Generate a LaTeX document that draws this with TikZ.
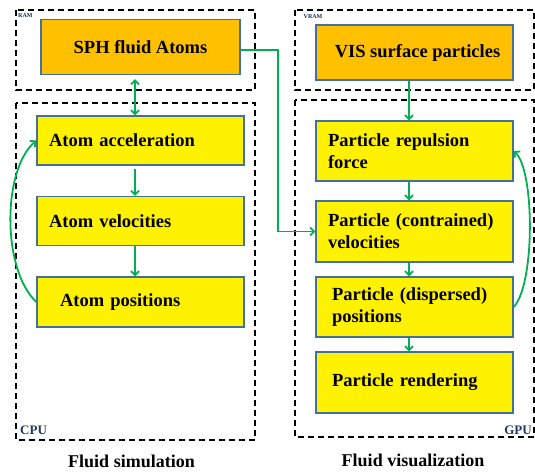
\documentclass[tikz,border=0pt]{standalone}
\usepackage{fontspec}
\setmainfont{Liberation Serif}
\usepackage{tikz}
\usetikzlibrary{arrows.meta}
\definecolor{StoreGold}{HTML}{FFC000}
\definecolor{BoxLine}{HTML}{41719C}
\definecolor{FlowGreen}{HTML}{00B050}
\definecolor{LabelNavy}{HTML}{1F3864}

\tikzset{
    frame/.style={draw=black, line width=1.8pt, dash pattern=on 6pt off 4pt},
    store/.style={draw=BoxLine, fill=StoreGold, line width=1.3pt, minimum height=55pt, font=\bfseries\fontsize{18.5}{22}\selectfont},
    stage/.style={draw=BoxLine, fill=yellow, line width=1.3pt, align=left, inner xsep=12pt, font=\bfseries\fontsize{18.5}{22}\selectfont},
    flow/.style={draw=FlowGreen, line width=1.8pt, >={Straight Barb[length=4pt, width=8pt]}},
    memlabel/.style={font=\bfseries\fontsize{6}{7}\selectfont, text=LabelNavy!80!black, inner sep=0pt},
    unitlabel/.style={font=\bfseries\fontsize{13}{15}\selectfont, text=LabelNavy, inner sep=0pt},
    caption/.style={font=\bfseries\fontsize{18}{21}\selectfont, inner sep=0pt}
}

\begin{document}
\begin{tikzpicture}[x=1pt, y=-1pt]
    \useasboundingbox (0,0) rectangle (535,471);

    % Draw the dashed memory and processor frames
    \draw[frame] (16,10) rectangle (255,90);
    \draw[frame] (16,103) rectangle (255,440);
    \draw[frame] (295,10) rectangle (534,90);
    \draw[frame] (295,100) rectangle (534,437);

    % Frame labels
    \node[memlabel, anchor=west] (RamLabel) at (18,16) {RAM};
    \node[memlabel] (VramLabel) at (313,17) {VRAM};
    \node[unitlabel, anchor=west] (CpuLabel) at (20,430) {CPU};
    \node[unitlabel, anchor=east] (GpuLabel) at (532,430) {GPU};

    % Fluid simulation side
    \node[store, minimum width=199pt] (SPH) at (140.5,47) {SPH fluid Atoms};
    \node[stage, minimum height=49pt, text width=183pt] (AtomAcc) at (140.5,140.5) {Atom acceleration};
    \node[stage, minimum height=49pt, text width=183pt] (AtomVel) at (140.5,221) {Atom velocities};
    \node[stage, minimum height=50pt, text width=183pt] (AtomPos) at (140.5,302) {\hspace*{11pt}Atom positions};

    % Fluid visualization side
    \node[store, minimum width=197pt] (VIS) at (414.5,52.5) {\hspace*{6pt}VIS surface particles};
    \node[stage, minimum height=60pt, text width=173pt] (PartRep) at (414.5,151) {Particle repulsion\\force};
    \node[stage, minimum height=61pt, text width=173pt] (PartVel) at (414.5,231.5) {Particle (contrained)\\velocities};
    \node[stage, minimum height=60pt, text width=173pt] (PartPos) at (414.5,307) {\hspace*{4pt}Particle (dispersed)\\\hspace*{4pt}positions};
    \node[stage, minimum height=61pt, text width=173pt] (PartRen) at (414.5,382.5) {\hspace*{4pt}Particle rendering};

    % Connectors
    \draw[flow, <->, shorten <=4pt] ([xshift=-5.5pt]SPH.south) -- ([xshift=-5.5pt]AtomAcc.north);
    \draw[flow, ->, shorten <=3pt] ([xshift=-5.5pt]AtomAcc.south) -- ([xshift=-5.5pt]AtomVel.north);
    \draw[flow, ->] ([xshift=-5.5pt]AtomVel.south) -- ([xshift=-5.5pt]AtomPos.north);
    \draw[flow, ->] (AtomPos.west) .. controls (2,270) and (2,170) .. (AtomAcc.west);

    \draw[flow, ->] ([xshift=-5.5pt]VIS.south) -- ([xshift=-5.5pt]PartRep.north);
    \draw[flow, ->] ([xshift=-5.5pt]PartRep.south) -- ([xshift=-5.5pt]PartVel.north);
    \draw[flow, ->] ([xshift=-5.5pt]PartVel.south) -- ([xshift=-5.5pt]PartPos.north);
    \draw[flow, ->] ([xshift=-5.5pt]PartPos.south) -- ([xshift=-5.5pt]PartRen.north);
    \draw[flow, ->] (PartPos.east) .. controls (535,285) and (535,170) .. (PartRep.east);

    \draw[flow, ->] ([yshift=-3pt]SPH.east) -- ++(37,0) |- (PartVel.west);

    % Captions
    \node[caption] (SimCaption) at (131.5,461) {Fluid simulation};
    \node[caption] (VisCaption) at (413,460) {Fluid visualization};
\end{tikzpicture}
\end{document}
